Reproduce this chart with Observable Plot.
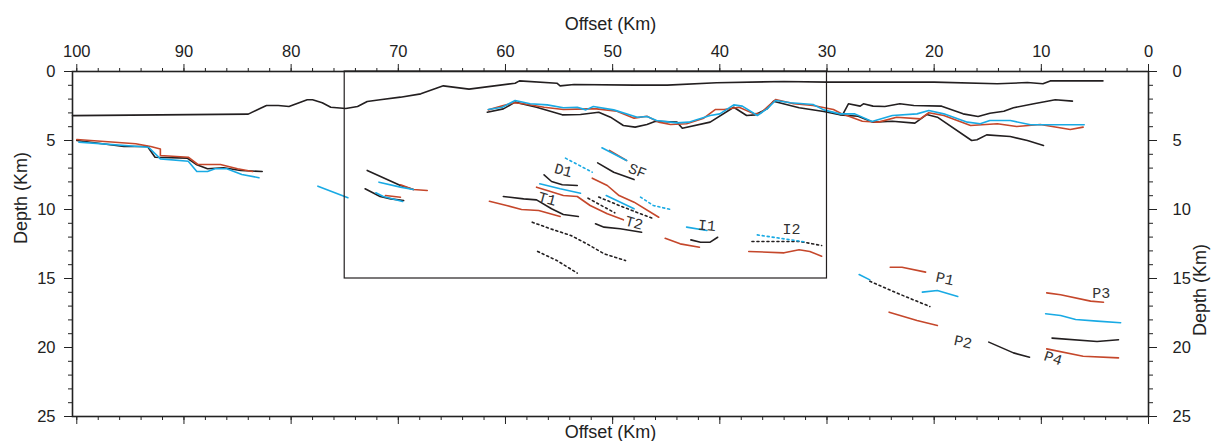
<!DOCTYPE html>
<html>
<head>
<meta charset="utf-8">
<script src="https://cdn.jsdelivr.net/npm/d3@7"></script>
<script src="https://cdn.jsdelivr.net/npm/@observablehq/plot@0.6"></script>
<style>
  html, body { margin: 0; padding: 0; background: #fff; }
  #chart svg { display: block; }
</style>
</head>
<body>
<div id="chart"></div>
<script>
// ---- tick values ----
const xMajorTicks = [0, 10, 20, 30, 40, 50, 60, 70, 80, 90, 100];
const xMinorTicks = d3.range(0, 101, 2);
const yMajorTicks = [0, 5, 10, 15, 20, 25];
const yMinorTicks = d3.range(0, 26, 1);

// ---- highlighted box (offset from, offset to, depth from, depth to) ----
const boxBounds = [{x1: 75, x2: 30, y1: 0, y2: 15}];

// ---- horizons: [offset km, depth km] ----
const seafloor = [[100.4,3.2],[84.0,3.09],[83.05,2.73],[82.3,2.46],[81.2,2.46],[80.2,2.54],[78.5,2.05],[78.0,2.05],[77.1,2.27],[76.3,2.59],[74.9,2.68],[73.8,2.54],[72.9,2.17],[71.7,2.05],[69.8,1.86],[67.9,1.62],[65.8,1.04],[63.4,1.28],[59.1,0.85],[58.7,0.68],[55.2,0.85],[54.9,1.04],[53.6,0.94],[48.0,0.99],[44.9,0.99],[40.3,0.82],[34.0,0.72],[30.0,0.77],[20.0,0.77],[14.1,0.89],[11.3,0.80],[9.85,0.89],[9.17,0.68],[4.25,0.68]];

const leftRed = [[100.0,4.93],[94.5,5.24],[93.1,5.43],[92.2,5.61],[92.2,6.09],[89.6,6.21],[88.7,6.74],[86.6,6.74],[85.0,7.05],[83.6,7.25]];
const leftBlack = [[100.0,5.0],[95.6,5.43],[93.4,5.43],[92.7,6.21],[89.7,6.28],[88.8,6.76],[87.8,7.05],[86.3,6.98],[84.7,7.17],[82.7,7.25]];
const leftCyan = [[99.8,5.12],[93.3,5.49],[92.2,6.33],[89.6,6.50],[88.8,7.25],[87.8,7.25],[87.1,7.05],[86.0,7.05],[84.6,7.46],[83.0,7.70]];

const cyanIso = [[77.5,8.31],[74.7,9.15]];
const black72a = [[72.9,7.17],[69.8,8.26],[68.6,8.55]];
const cyan72a = [[71.8,8.02],[69.8,8.38],[68.6,8.55]];
const red72a = [[69.8,8.21],[68.6,8.55],[67.3,8.62]];
const black72b = [[73.1,8.50],[71.7,9.06],[70.7,9.23],[69.5,9.35]];
const cyan72b = [[72.1,8.79],[71.4,9.06],[69.6,9.42]];
const red72b = [[71.2,8.99],[69.8,9.11]];

const basementBlack = [[61.7,2.95],[60.2,2.71],[59.1,2.22],[57.1,2.59],[54.7,3.14],[53.0,3.12],[51.3,2.95],[50.2,3.31],[49.0,3.91],[47.9,4.03],[46.8,3.84],[46.0,3.60],[44.0,3.67],[43.5,4.11],[40.9,3.67],[38.7,2.59],[37.5,3.19],[36.7,3.14],[35.6,2.71],[35.0,2.15],[32.6,2.63],[30.3,2.90],[28.8,3.14],[27.1,3.24],[25.7,3.67],[23.9,3.60],[21.8,3.74],[20.7,3.12],[19.7,3.31],[16.5,5.0],[16.0,4.95],[15.1,4.59],[12.9,4.71],[11.3,5.0],[9.8,5.36]];
const upperBlackRight = [[28.5,3.07],[28.0,2.34],[26.9,2.51],[26.6,2.34],[25.7,2.51],[24.6,2.54],[23.2,2.34],[21.9,2.46],[19.3,2.51],[17.3,3.07],[15.9,3.26],[14.8,3.02],[13.5,2.88],[12.6,2.63],[10.7,2.34],[8.7,2.05],[7.1,2.15]];
const basementCyan = [[61.6,2.75],[60.3,2.59],[59.1,2.10],[57.7,2.34],[56.1,2.42],[54.6,2.63],[53.3,2.59],[52.5,2.78],[51.8,2.54],[49.9,2.78],[47.7,3.31],[46.8,3.26],[45.9,3.55],[44.0,3.72],[42.9,3.67],[40.9,3.19],[40.0,3.07],[38.7,2.42],[37.9,2.51],[36.5,3.19],[35.6,2.71],[34.8,2.10],[33.4,2.27],[31.3,2.39],[30.3,2.78],[28.8,3.07],[27.4,3.07],[25.8,3.62],[23.9,3.19],[21.6,3.07],[20.5,2.83],[19.1,3.07],[16.9,3.67],[15.7,3.79],[14.8,3.55],[12.9,3.55],[11.0,3.86],[6.0,3.86]];
const basementRed = [[61.6,2.78],[60.2,2.46],[59.2,2.27],[58.3,2.34],[56.4,2.59],[54.6,2.75],[52.4,2.71],[51.5,2.71],[49.6,2.88],[48.0,3.38],[46.8,3.24],[45.7,3.67],[44.6,3.84],[43.1,3.79],[41.5,3.38],[40.4,2.75],[39.6,2.75],[38.2,2.59],[36.8,3.07],[36.2,3.02],[34.8,2.03],[33.1,2.34],[31.3,2.46],[29.4,2.75],[28.6,3.07],[26.7,3.60],[25.2,3.67],[23.5,3.31],[21.3,3.43],[20.5,2.99],[19.1,3.19],[16.6,3.91],[14.1,3.79],[12.3,3.98],[10.1,3.84],[7.3,4.20],[6.1,4.03]];

const sfCyan = [[51.0,5.53],[48.7,6.45]];
const sfRed = [[50.3,5.72],[48.7,6.45]];
const sfBlack = [[51.4,6.62],[49.9,7.30],[48.0,7.83]];
const d1CyanDot = [[54.4,6.28],[51.9,7.30]];
const d1Black = [[56.4,7.49],[55.7,7.97],[54.7,8.21],[53.3,8.26]];
const d1Cyan = [[56.8,8.14],[54.9,8.50],[53.0,8.82]];
const t1RedUpper = [[57.1,8.38],[55.8,8.70],[54.6,8.99],[53.3,9.06],[52.1,9.71],[50.5,10.31],[49.0,10.75]];
const t1Black = [[60.2,9.06],[58.3,9.23],[57.1,9.30],[55.7,9.95],[54.6,10.36],[53.2,10.51]];
const t1Red = [[61.5,9.40],[59.9,9.71],[58.5,10.0],[56.9,10.07],[54.9,10.51]];
const lowDot1 = [[57.5,10.92],[55.8,11.40],[53.9,11.88],[52.4,12.49],[50.8,13.21],[48.8,13.70]];
const lowDot2 = [[57.0,13.04],[55.2,13.70],[53.3,14.61]];
const sfRedLong = [[51.9,7.73],[50.5,8.26],[49.4,8.99],[48.0,9.47],[45.7,10.56]];
const sfCyanLow = [[50.6,8.99],[48.0,9.95]];
const t2DotA = [[52.3,9.18],[49.8,10.24]];
const t2DotB = [[51.3,9.10],[49.0,9.83],[46.3,10.63]];
const cyanDotRight = [[47.4,9.10],[46.2,9.71],[44.6,10.0]];
const t2Black = [[51.6,11.04],[50.8,11.28],[49.3,11.40],[47.3,11.65]];
const i1Red = [[45.1,12.08],[43.7,12.49],[41.9,12.73]];
const i1Cyan = [[43.1,11.28],[41.2,11.52]];
const i1Black = [[42.7,12.20],[41.8,12.37],[40.9,12.37],[40.2,12.01]];
const i2CyanDot = [[36.5,11.84],[31.9,12.37]];
const i2BlackDot = [[37.0,12.32],[32.5,12.32],[30.5,12.61]];
const i2Red = [[37.3,13.04],[34.0,13.14],[32.6,12.92],[31.6,13.04],[30.5,13.38]];

const p1Red = [[24.1,14.18],[23.0,14.18],[20.8,14.54]];
const pCyanLeft = [[27.0,14.71],[26.0,15.1]];
const pBlackDot = [[26.0,15.2],[23.3,16.11],[20.4,17.03]];
const p1Cyan = [[21.1,15.99],[19.7,15.87],[17.8,16.3]];
const p2Red = [[24.2,17.44],[21.6,18.04],[19.7,18.41]];
const p2Black = [[14.9,19.61],[12.6,20.39],[11.1,20.70]];
const p3Red = [[9.5,16.04],[8.2,16.18],[5.4,16.64],[4.2,16.72]];
const p3Cyan = [[9.6,17.56],[8.2,17.68],[6.8,17.97],[4.8,18.09],[2.6,18.21]];
const p4Black = [[9.0,19.32],[4.8,19.57],[2.8,19.44]];
const p4Red = [[9.5,20.1],[6.1,20.63],[2.8,20.75]];

// ---- fault labels ----
const labelNames = ["D1", "SF", "T1", "T2", "I1", "I2", "P1", "P2", "P3", "P4"];
const labelOffsets = [54.6, 47.7, 56.1, 48.0, 41.2, 33.3, 19.0, 17.3, 4.4, 8.9];
const labelDepths = [7.17, 7.2, 9.23, 10.97, 11.16, 11.4, 15.02, 19.6, 16.04, 20.77];
const labelAngles = [15, 22, 15, 15, 5, 0, 12, 12, 0, 18];

// ---- styling (kept apart from data) ----
const RED = "#c5472b", CYAN = "#19aae4", BLACK = "#231f20";
const groups = [
  {color: BLACK, dashed: false, lines: [seafloor, leftBlack, black72a, black72b, basementBlack, upperBlackRight, sfBlack, d1Black, t1Black, t2Black, i1Black, p2Black, p4Black]},
  {color: RED, dashed: false, lines: [leftRed, red72a, red72b, basementRed, sfRed, t1RedUpper, t1Red, sfRedLong, i1Red, i2Red, p1Red, p2Red, p3Red, p4Red]},
  {color: CYAN, dashed: false, lines: [leftCyan, cyanIso, cyan72a, cyan72b, basementCyan, sfCyan, d1Cyan, sfCyanLow, i1Cyan, pCyanLeft, p1Cyan, p3Cyan]},
  {color: BLACK, dashed: true, lines: [lowDot1, lowDot2, t2DotA, t2DotB, i2BlackDot, pBlackDot]},
  {color: CYAN, dashed: true, lines: [d1CyanDot, cyanDotRight, i2CyanDot]}
];

const lineMarks = groups.map((g) => {
  const rows = g.lines.flatMap((pts, i) => pts.map(([x, y]) => ({x, y, id: i})));
  return Plot.line(rows, {
    x: "x", y: "y", z: "id",
    stroke: g.color,
    strokeWidth: g.dashed ? 1.6 : 1.6,
    strokeDasharray: g.dashed ? "2,3" : null,
    curve: "linear"
  });
});

const labels = labelNames.map((name, i) => ({name, x: labelOffsets[i], y: labelDepths[i], rot: labelAngles[i]}));

const AX = "#222";
const chart = Plot.plot({
  width: 1212,
  height: 441,
  marginTop: 71,
  marginBottom: 25,
  marginLeft: 72,
  marginRight: 64,
  style: {fontFamily: "'Liberation Sans', Arial, sans-serif", fontSize: "16px", color: AX, background: "#fff"},
  x: {domain: [100.4, 0]},
  y: {domain: [0, 25], reverse: true},
  marks: [
    ...lineMarks,
    Plot.rect(boxBounds, {x1: "x1", x2: "x2", y1: "y1", y2: "y2", fill: "none", stroke: BLACK, strokeWidth: 1.2}),
    Plot.text(labels, {x: "x", y: "y", text: "name", rotate: "rot", fontFamily: "'Liberation Mono', 'DejaVu Sans Mono', monospace", fontSize: 15, fill: "#333"}),
    // axes
    Plot.axisX({anchor: "top", ticks: xMajorTicks, tickSize: 8, tickPadding: 7, fontSize: 16.5, label: null}),
    Plot.axisX({anchor: "top", ticks: xMinorTicks, tickSize: 4, tickFormat: () => "", label: null}),
    Plot.axisX({anchor: "bottom", ticks: xMajorTicks, tickSize: 8, tickFormat: () => "", label: null}),
    Plot.axisX({anchor: "bottom", ticks: xMinorTicks, tickSize: 4, tickFormat: () => "", label: null}),
    Plot.axisY({anchor: "left", ticks: yMajorTicks, tickSize: 8, tickPadding: 9, fontSize: 16.5, label: null}),
    Plot.axisY({anchor: "left", ticks: yMinorTicks, tickSize: 4, tickFormat: () => "", label: null}),
    Plot.axisY({anchor: "right", ticks: yMajorTicks, tickSize: 8, tickPadding: 16, fontSize: 16.5, label: null}),
    Plot.axisY({anchor: "right", ticks: yMinorTicks, tickSize: 4, tickFormat: () => "", label: null}),
    Plot.frame({stroke: AX, strokeWidth: 1.6}),
    // axis titles
    Plot.text(["Offset (Km)"], {frameAnchor: "top", lineAnchor: "middle", dy: -47, fontSize: 18, fill: AX}),
    Plot.text(["Offset (Km)"], {frameAnchor: "bottom", lineAnchor: "middle", dy: 16, fontSize: 18, fill: AX}),
    Plot.text(["Depth (Km)"], {frameAnchor: "left", dx: -51, rotate: -90, fontSize: 18, fill: AX}),
    Plot.text(["Depth (Km)"], {frameAnchor: "right", dx: 52, rotate: -90, fontSize: 18, fill: AX})
  ]
});
document.getElementById("chart").appendChild(chart);
</script>
</body>
</html>
